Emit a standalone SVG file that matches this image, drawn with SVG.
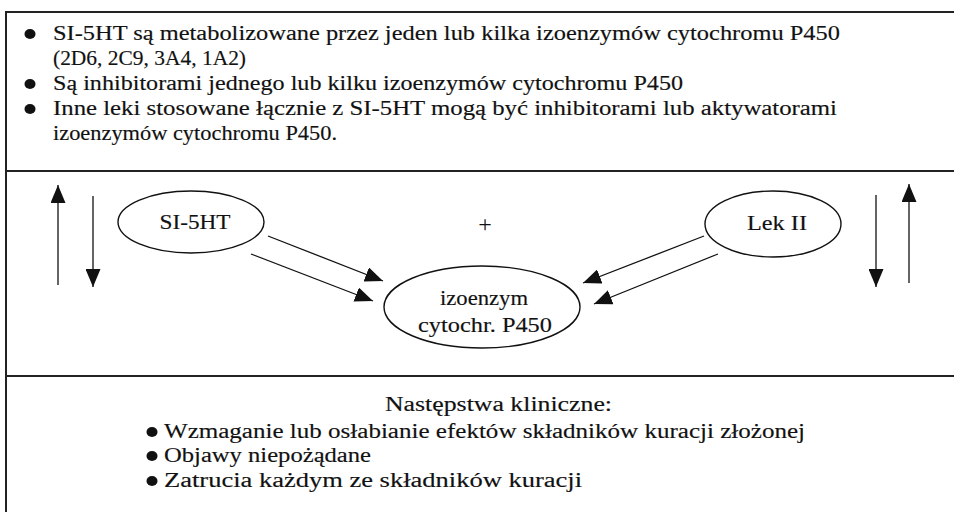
<svg xmlns="http://www.w3.org/2000/svg" width="954" height="512" viewBox="0 0 954 512" font-family="'Liberation Serif', 'DejaVu Serif', serif">
<style>
  .t { font-family: "Liberation Serif", "DejaVu Serif", serif; font-size: 20px; fill: #111; stroke: #111; stroke-width: 0.15; }
  .frame { stroke: #222; stroke-width: 2; fill: none; }
  .node { fill: none; stroke: #111; stroke-width: 1.4; }
  .arr { stroke: #111; stroke-width: 1.3; fill: none; marker-end: url(#ah); }
  .bul { fill: #111; }
</style>
<defs>
  <marker id="ah" markerUnits="userSpaceOnUse" markerWidth="19" markerHeight="15" refX="18" refY="7.5" orient="auto">
    <path d="M0,0 L18,7.5 L0,15 z" fill="#111"/>
  </marker>
</defs>
<rect x="0" y="0" width="954" height="512" fill="#fff"/>

<g id="frame">
  <line class="frame" x1="6" y1="12" x2="954" y2="12"/>
  <line class="frame" x1="6" y1="171" x2="954" y2="171"/>
  <line class="frame" x1="6" y1="376" x2="954" y2="376"/>
  <line class="frame" x1="6" y1="11" x2="6" y2="512"/>
</g>

<g id="top-list">
  <ellipse class="bul" cx="30" cy="34" rx="5.5" ry="5"/>
  <text class="t" x="53" y="40" textLength="787" lengthAdjust="spacingAndGlyphs">SI-5HT są metabolizowane przez jeden lub kilka izoenzymów cytochromu P450</text>
  <text class="t" x="53" y="65" textLength="193" lengthAdjust="spacingAndGlyphs">(2D6, 2C9, 3A4, 1A2)</text>
  <ellipse class="bul" cx="30" cy="84" rx="5.5" ry="5"/>
  <text class="t" x="53" y="90" textLength="630" lengthAdjust="spacingAndGlyphs">Są inhibitorami jednego lub kilku izoenzymów cytochromu P450</text>
  <ellipse class="bul" cx="30" cy="109" rx="5.5" ry="5"/>
  <text class="t" x="53" y="115" textLength="784" lengthAdjust="spacingAndGlyphs">Inne leki stosowane łącznie z SI-5HT mogą być inhibitorami lub aktywatorami</text>
  <text class="t" x="53" y="140" textLength="284" lengthAdjust="spacingAndGlyphs">izoenzymów cytochromu P450.</text>
</g>

<g id="node-si5ht">
  <ellipse class="node" cx="191" cy="222" rx="73" ry="31"/>
  <text class="t" x="195" y="229" text-anchor="middle" textLength="71" lengthAdjust="spacingAndGlyphs">SI-5HT</text>
</g>
<g id="node-lek2">
  <ellipse class="node" cx="773" cy="224" rx="68" ry="33"/>
  <text class="t" x="777" y="230" text-anchor="middle" textLength="60" lengthAdjust="spacingAndGlyphs">Lek II</text>
</g>
<g id="node-izoenzym">
  <ellipse class="node" cx="482" cy="307" rx="98" ry="41"/>
  <text class="t" x="484" y="305" text-anchor="middle" textLength="88" lengthAdjust="spacingAndGlyphs">izoenzym</text>
  <text class="t" x="485" y="332" text-anchor="middle" textLength="134" lengthAdjust="spacingAndGlyphs">cytochr. P450</text>
</g>
<g id="plus">
  <text class="t" x="485" y="232" text-anchor="middle" style="font-size:24px;stroke-width:0">+</text>
</g>

<g id="connectors">
  <line class="arr" x1="58" y1="285" x2="58" y2="185"/>
  <line class="arr" x1="93" y1="196" x2="93" y2="287"/>
  <line class="arr" x1="876" y1="195" x2="876" y2="287"/>
  <line class="arr" x1="909" y1="283" x2="909" y2="184"/>
  <line class="arr" x1="268" y1="236" x2="383" y2="281"/>
  <line class="arr" x1="251" y1="254" x2="373" y2="301"/>
  <line class="arr" x1="704" y1="236" x2="583" y2="283"/>
  <line class="arr" x1="718" y1="254" x2="594" y2="304"/>
</g>

<g id="bottom-list">
  <text class="t" x="385" y="411" textLength="227" lengthAdjust="spacingAndGlyphs">Następstwa kliniczne:</text>
  <ellipse class="bul" cx="152" cy="432" rx="5.5" ry="5"/>
  <text class="t" x="164" y="438" textLength="641" lengthAdjust="spacingAndGlyphs">Wzmaganie lub osłabianie efektów składników kuracji złożonej</text>
  <ellipse class="bul" cx="152" cy="456" rx="5.5" ry="5"/>
  <text class="t" x="164" y="462" textLength="207" lengthAdjust="spacingAndGlyphs">Objawy niepożądane</text>
  <ellipse class="bul" cx="152" cy="481" rx="5.5" ry="5"/>
  <text class="t" x="164" y="487" textLength="418" lengthAdjust="spacingAndGlyphs">Zatrucia każdym ze składników kuracji</text>
</g>
</svg>
